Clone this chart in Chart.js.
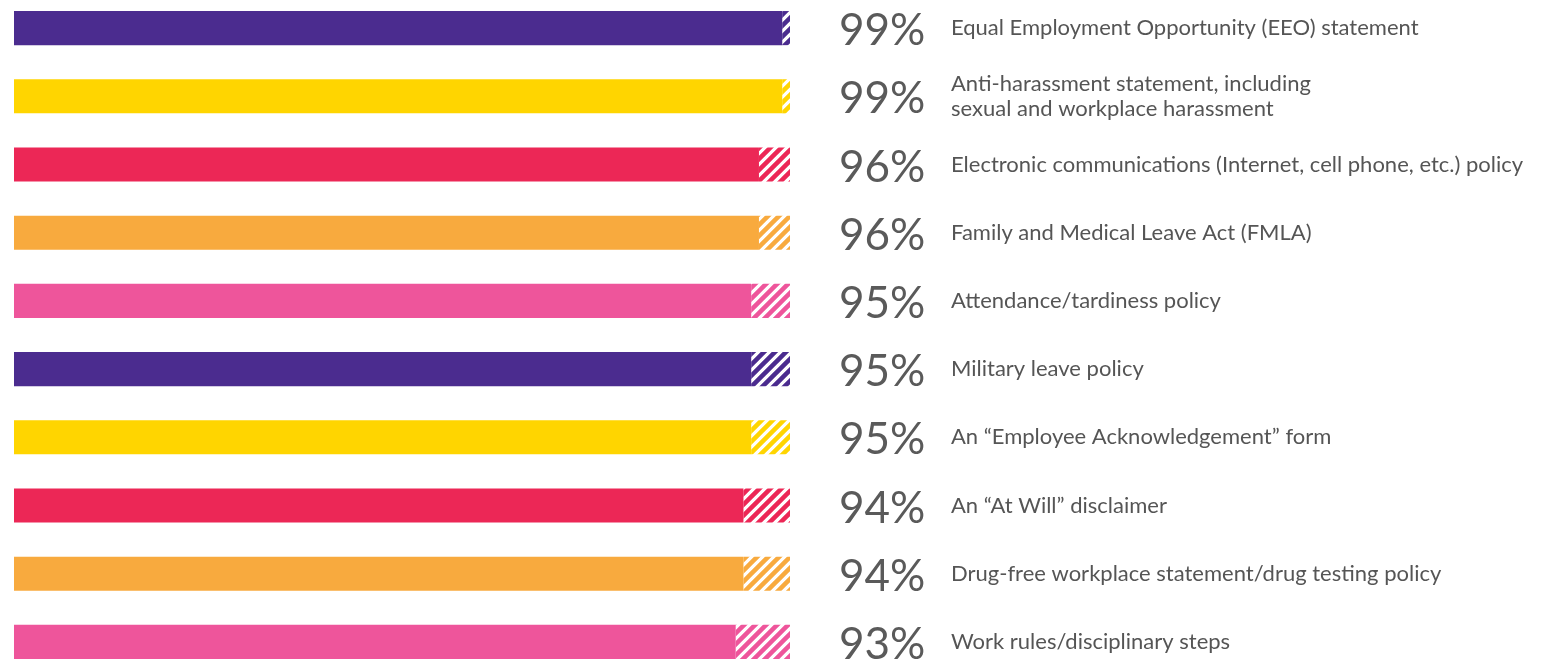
<!DOCTYPE html>
<html>
<head>
<meta charset="utf-8">
<title>Handbook policies</title>
<script src="https://cdn.jsdelivr.net/npm/chart.js@4.4.1/dist/chart.umd.min.js"></script>
<style>
  html, body { margin: 0; padding: 0; background: #fff; overflow: hidden; }
  #wrap { position: absolute; left: 0; top: -6px; width: 1542px; height: 682px; }
</style>
</head>
<body>
<div id="wrap"><canvas id="policyChart"></canvas></div>
<script>
// share of handbooks that include each policy
const policies = [
  "Equal Employment Opportunity (EEO) statement",
  ["Anti-harassment statement, including", "sexual and workplace harassment"],
  "Electronic communications (Internet, cell phone, etc.) policy",
  "Family and Medical Leave Act (FMLA)",
  "Attendance/tardiness policy",
  "Military leave policy",
  "An \u201CEmployee Acknowledgement\u201D form",
  "An \u201CAt Will\u201D disclaimer",
  "Drug-free workplace statement/drug testing policy",
  "Work rules/disciplinary steps"
];
const percents = [99, 99, 96, 96, 95, 95, 95, 94, 94, 93];
const remainder = percents.map(p => 100 - p);
const barColors = ["#4b2c8f", "#ffd500", "#ec2756", "#f8aa3e", "#ee559b",
                   "#4b2c8f", "#ffd500", "#ec2756", "#f8aa3e", "#ee559b"];

// diagonal "/" stripes in the bar colour on white
function stripes(color) {
  const size = 11;
  const c = document.createElement("canvas");
  c.width = size;
  c.height = size;
  const g = c.getContext("2d");
  g.fillStyle = "#fff";
  g.fillRect(0, 0, size, size);
  g.strokeStyle = color;
  g.lineWidth = 4.5;
  g.beginPath();
  for (let k = 0; k <= 2; k++) {
    g.moveTo(-size, k * size + size);
    g.lineTo(k * size + size, -size);
  }
  g.stroke();
  return g.createPattern(c, "repeat");
}

const sideLabels = {
  id: "sideLabels",
  afterDatasetsDraw(chart) {
    const ctx = chart.ctx;
    const y = chart.scales.y;
    ctx.save();
    ctx.textBaseline = "middle";
    ctx.textAlign = "left";
    policies.forEach((label, i) => {
      const yc = y.getPixelForValue(i);

      ctx.fillStyle = "#5a5a5a";
      ctx.font = "44px Lato";
      ctx.fillText(percents[i] + "%", 839, yc + 3);

      const lines = Array.isArray(label) ? label : [label];
      ctx.fillStyle = "#555";
      ctx.font = "22px Lato";
      lines.forEach((line, k) => {
        const ly = yc + (k - (lines.length - 1) / 2) * 25;
        ctx.fillText(line, 951, ly);
      });
    });
    ctx.restore();
  }
};

new Chart(document.getElementById("policyChart"), {
  type: "bar",
  data: {
    labels: policies,
    datasets: [
      {
        data: percents,
        backgroundColor: barColors,
        barPercentage: 0.5,
        categoryPercentage: 1
      },
      {
        data: remainder,
        backgroundColor: barColors.map(stripes),
        barPercentage: 0.5,
        categoryPercentage: 1
      }
    ]
  },
  options: {
    indexAxis: "y",
    responsive: true,
    maintainAspectRatio: false,
    animation: false,
    layout: { padding: { left: 14, right: 752, top: 0, bottom: 0 } },
    scales: {
      x: { stacked: true, min: 0, max: 100, display: false },
      y: { stacked: true, display: false }
    },
    plugins: {
      legend: { display: false },
      tooltip: { enabled: false }
    }
  },
  plugins: [sideLabels]
});
</script>
</body>
</html>
